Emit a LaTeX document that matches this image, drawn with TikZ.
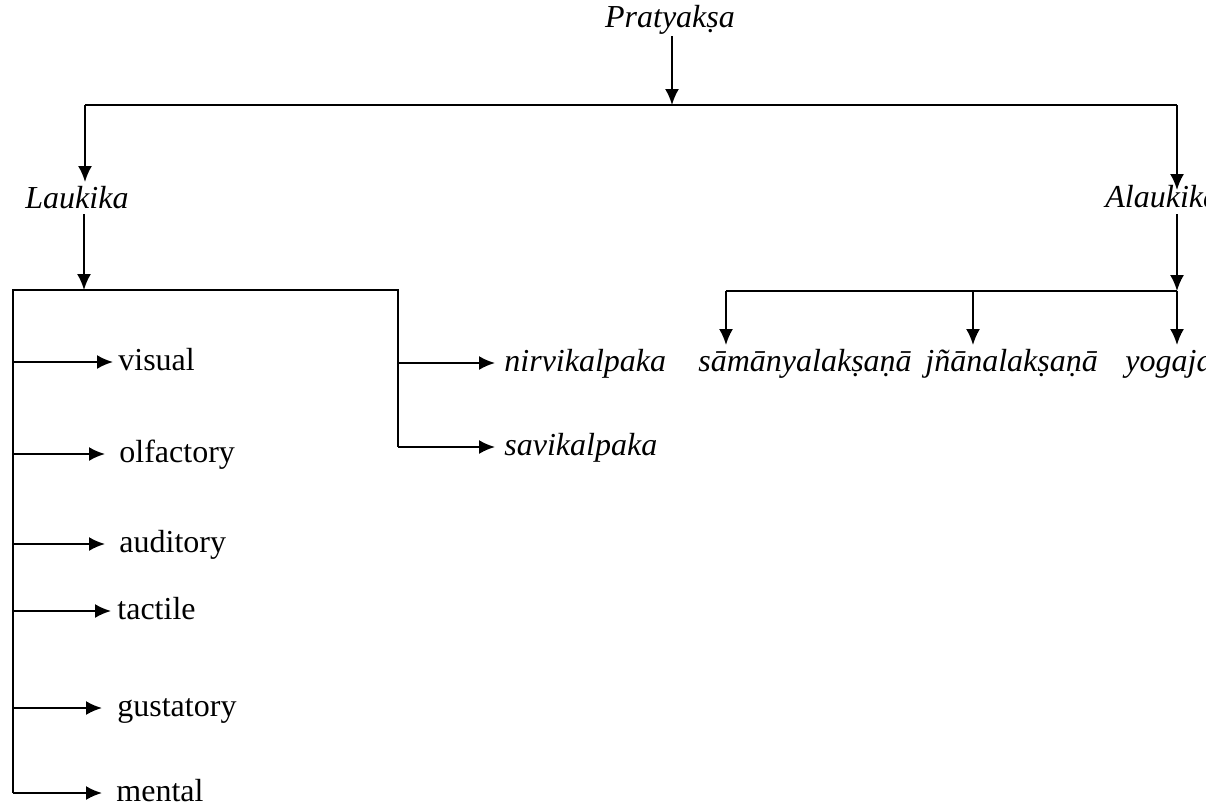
\documentclass[tikz,border=0pt]{standalone}
\usepackage{fontspec}
\setmainfont{Liberation Serif}
\usetikzlibrary{arrows.meta}
\begin{document}
\begin{tikzpicture}[x=0.5pt,y=-0.5pt,
  lbl/.style={inner sep=0pt, anchor=base west, font=\fontsize{16}{19}\selectfont},
  ilbl/.style={lbl, font=\fontsize{16}{19}\selectfont\itshape},
  conn/.style={line width=1pt},
  arr/.style={conn, -{Latex[length=8pt,width=7pt]}}]
\useasboundingbox (0,0) rectangle (1219,810);
\clip (0,0) rectangle (1205,810);
% text nodes
\node[ilbl, anchor=base] (prat) at (670,27) {Pratyakṣa};
\node[ilbl] (lauk) at (25,208) {Laukika};
\node[ilbl] (alauk) at (1105,207) {Alaukika};
\node[lbl] (visual) at (118,370) {visual};
\node[lbl] (olf) at (119,462) {olfactory};
\node[lbl] (aud) at (119,552) {auditory};
\node[lbl] (tac) at (117,619) {tactile};
\node[lbl] (gus) at (117,716) {gustatory};
\node[lbl] (men) at (116,801) {mental};
\node[ilbl] (nir) at (504,371) {nirvikalpaka};
\node[ilbl] (sav) at (504,455) {savikalpaka};
\node[ilbl] (sam) at (698,371) {sāmānyalakṣaṇā};
\node[ilbl] (jna) at (925,371) {jñānalakṣaṇā};
\node[ilbl] (yog) at (1125,371) {yogaja};
% junctions and tips
\coordinate (pstart) at (672,36);
\coordinate (ptop) at (672,105);
\coordinate (tl) at (85,105);
\coordinate (tr) at (1177,105);
\coordinate (lauktip) at (85,182);
\coordinate (alauktip) at (1177,190);
\coordinate (lstart) at (84,214);
\coordinate (lj) at (84,290);
\coordinate (lc) at (13,290);
\coordinate (rc) at (398,290);
\coordinate (lbot) at (13,793);
\coordinate (rbot) at (398,447);
\coordinate (astart) at (1177,214);
\coordinate (aj) at (1177,291);
\coordinate (al) at (726,291);
\coordinate (am) at (973,291);
\coordinate (samtip) at (726,345);
\coordinate (jnatip) at (973,345);
\coordinate (yogtip) at (1177,345);
\coordinate (v1) at (13,362);
\coordinate (v2) at (13,454);
\coordinate (v3) at (13,544);
\coordinate (v4) at (13,611);
\coordinate (v5) at (13,708);
\coordinate (n1) at (398,363);
% connectors
\draw[arr] (pstart) -- (ptop);
\draw[conn] (tl) -- (tr);
\draw[arr] (tl) -- (lauktip);
\draw[arr] (tr) -- (alauktip);
\draw[arr] (lstart) -- (lj);
\draw[conn] (lbot) -- (lc) -- (rc) -- (rbot);
\draw[arr, shorten >=2.5pt] (v1) -- (v1 -| visual.west);
\draw[arr, shorten >=7pt] (v2) -- (v2 -| olf.west);
\draw[arr, shorten >=7pt] (v3) -- (v3 -| aud.west);
\draw[arr, shorten >=3pt] (v4) -- (v4 -| tac.west);
\draw[arr, shorten >=7.5pt] (v5) -- (v5 -| gus.west);
\draw[arr, shorten >=7pt] (lbot) -- (lbot -| men.west);
\draw[arr, shorten >=4.5pt] (n1) -- (n1 -| nir.west);
\draw[arr, shorten >=4.5pt] (rbot) -- (rbot -| sav.west);
\draw[arr] (astart) -- (aj);
\draw[conn] (al) -- (aj);
\draw[arr] (al) -- (samtip);
\draw[arr] (am) -- (jnatip);
\draw[arr] (aj) -- (yogtip);
\end{tikzpicture}
\end{document}
